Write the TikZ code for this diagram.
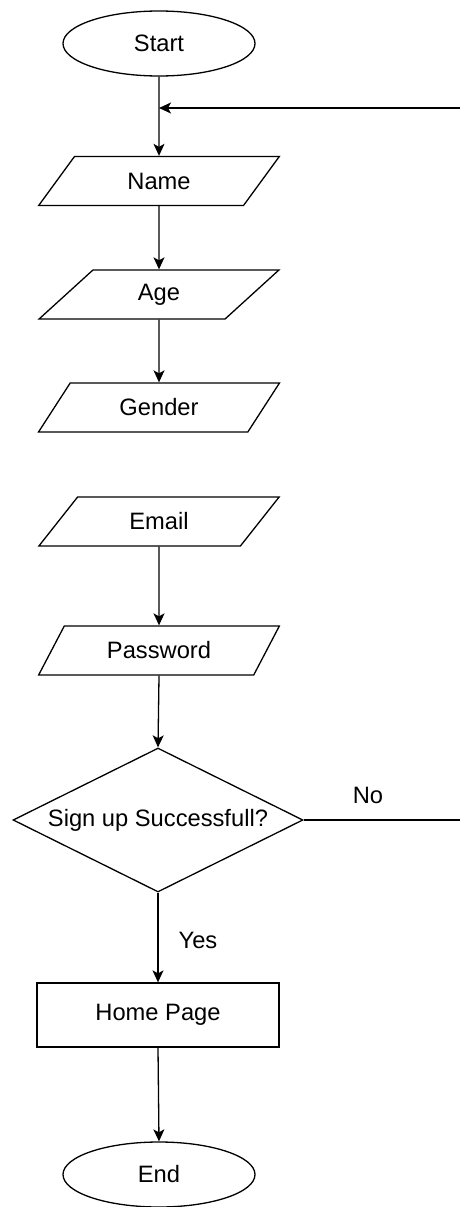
\documentclass[tikz,border=0pt]{standalone}
\usepackage{fontspec}
\setmainfont{Liberation Sans}
\usetikzlibrary{shapes.geometric,positioning,arrows.meta}

\begin{document}
\begin{tikzpicture}[x=1pt, y=-1pt, line width=1.3pt,
    every node/.style={font=\fontsize{23.7}{28}\selectfont},
    term/.style={draw, ellipse, minimum width=192pt, minimum height=65pt, inner sep=0pt},
    io/.style={draw, trapezium, trapezium left angle=51, trapezium right angle=129, trapezium stretches=true, minimum width=241pt, minimum height=49pt, inner sep=0pt},
    decide/.style={draw, diamond, aspect=2, minimum width=290pt, minimum height=144pt, inner sep=0pt},
    proc/.style={draw, rectangle, minimum width=242pt, minimum height=64pt},
    arr/.style={-{Stealth[length=12pt, width=11pt, inset=3pt]}}]
    \useasboundingbox (0,0) rectangle (460,1207);

    \node[term] (start) at (159,43.5) {Start};
    \node[io] (name) at (159,181) {Name};
    \node[io] (age) at (159,294.5) {Age};
    \node[io] (gender) at (159,407.5) {Gender};
    \node[io] (email) at (159,521.5) {Email};
    \node[io] (pass) at (159,650.5) {Password};
    \node[decide] (check) at (158,820) {Sign up Successfull?};
    \node[proc] (home) at (158,1015) {Home Page};
    \node[term] (end) at (159,1174.5) {End};

    \coordinate (noend) at (461,820);
    \coordinate (backin) at (461,108);

    \draw[arr] (start.south) -- (name.north);
    \draw[arr] (name.south) -- (age.north);
    \draw[arr] (age.south) -- (gender.north);
    \draw[arr] (email.south) -- (pass.north);
    \draw[arr] (pass.south) -- (check.north);
    \draw[arr] (check.south) -- (home.north);
    \draw[arr] (home.south) -- (end.north);
    \draw (check.east) -- (noend);
    \draw[arr] (backin) -- (backin -| start.south);

    \node (no) at (368,795) {No};
    \node (yes) at (198,940) {Yes};
\end{tikzpicture}
\end{document}
